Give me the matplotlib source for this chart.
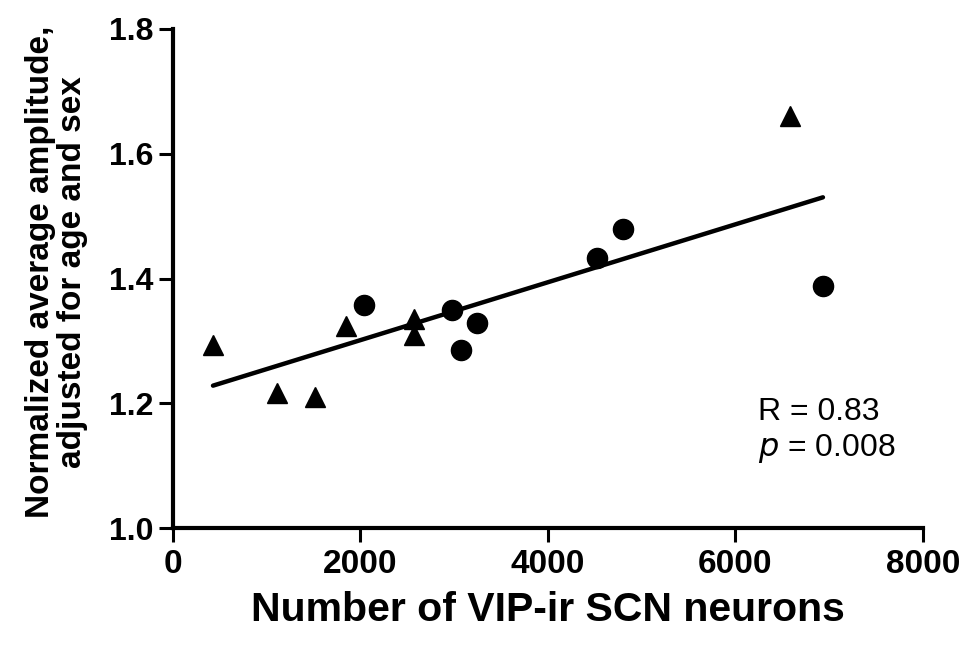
import numpy as np
import matplotlib
matplotlib.use("Agg")
import matplotlib.pyplot as plt

plt.rcParams['font.family'] = ['Liberation Sans', 'DejaVu Sans']

# triangles
tri_x = [427, 1109, 1515, 1845, 2571, 2571, 6581]
tri_y = [1.293, 1.216, 1.210, 1.324, 1.335, 1.309, 1.661]
# circles
circ_x = [2037, 2976, 3072, 3243, 4523, 4800, 6933]
circ_y = [1.358, 1.349, 1.285, 1.329, 1.433, 1.479, 1.388]

x_ticks = [0, 2000, 4000, 6000, 8000]
y_ticks = [1.0, 1.2, 1.4, 1.6, 1.8]

fig = plt.figure(figsize=(9.69, 6.47), dpi=100)
ax = fig.add_axes([0.1785, 0.1839, 0.774, 0.7713])

# regression line over all points
all_x = np.array(tri_x + circ_x)
all_y = np.array(tri_y + circ_y)
slope, icpt = np.polyfit(all_x, all_y, 1)
lx = np.array([all_x.min(), all_x.max()])
ax.plot(lx, slope * lx + icpt, color='black', lw=3.2, solid_capstyle='round', zorder=2)

ax.plot(tri_x, tri_y, '^', color='black', markersize=15, zorder=3)
ax.plot(circ_x, circ_y, 'o', color='black', markersize=14.5, zorder=3)

ax.set_xlim(0, 8000)
ax.set_ylim(1.0, 1.8)
ax.set_xticks(x_ticks)
ax.set_yticks(y_ticks)
ax.set_yticklabels(['%.1f' % v for v in y_ticks])

for s in ['top', 'right']:
    ax.spines[s].set_visible(False)
for s in ['left', 'bottom']:
    ax.spines[s].set_linewidth(3)
ax.tick_params(width=2.2, length=10, labelsize=23, pad=4)
ax.tick_params(axis='x', labelsize=24, pad=5)
for lab in ax.get_xticklabels() + ax.get_yticklabels():
    lab.set_fontweight('bold')

ax.set_xlabel('Number of VIP-ir SCN neurons', fontsize=29.5, fontweight='bold', labelpad=8)
ax.set_ylabel('Normalized average amplitude,\nadjusted for age and sex', fontsize=24,
              fontweight='bold', linespacing=1.05)
ax.yaxis.set_label_coords(-0.113, 0.513)

ax.text(6240, 1.173, 'R = 0.83', fontsize=23)
ax.text(6240, 1.115, '$\\it{p}$ = 0.008', fontsize=23)

fig.savefig('out.png', dpi=100)
